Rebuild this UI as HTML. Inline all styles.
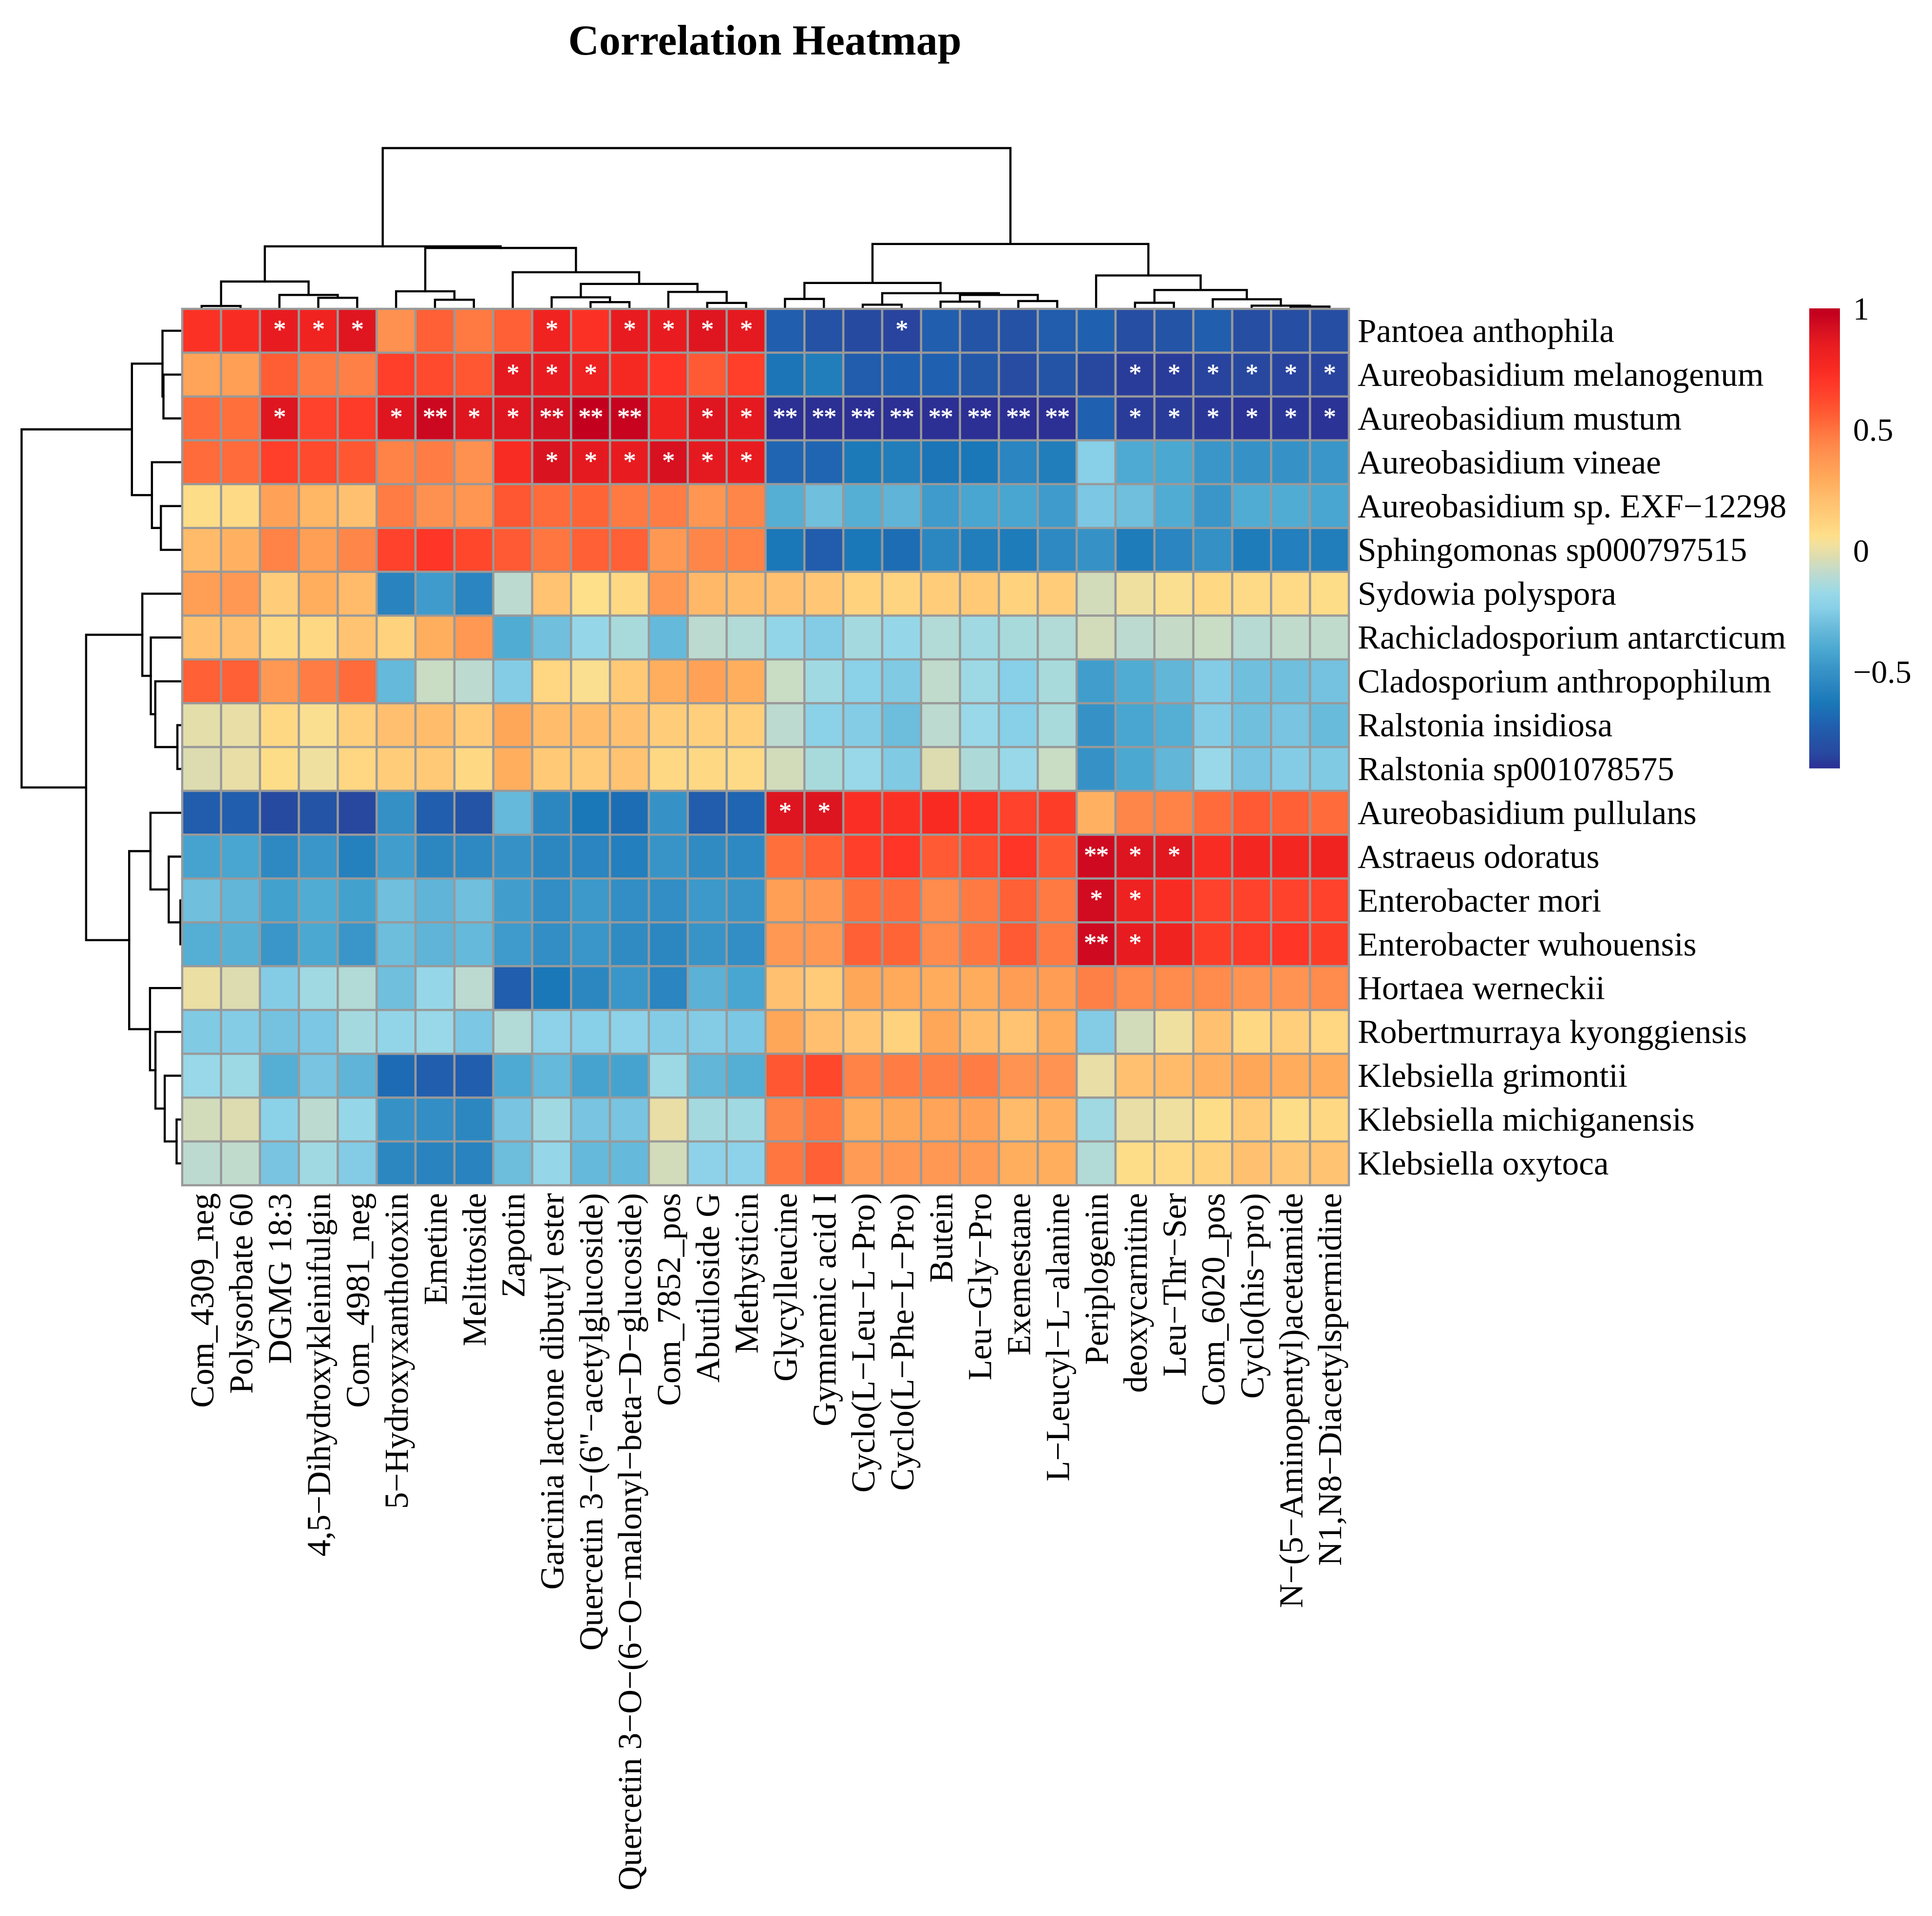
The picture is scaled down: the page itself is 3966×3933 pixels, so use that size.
<!DOCTYPE html>
<html>
<head>
<meta charset="utf-8">
<title>Correlation Heatmap</title>
<style>
html,body{margin:0;padding:0;background:#fff;}
svg{display:block;}
text{font-family:"Liberation Serif",serif;fill:#000;}
</style>
</head>
<body>
<svg id="chart" xmlns="http://www.w3.org/2000/svg" width="3966" height="3933" viewBox="0 0 3966 3933">
<defs><linearGradient id="cbGrad" x1="0" y1="0" x2="0" y2="1"></linearGradient></defs>
<rect x="0" y="0" width="3966" height="3933" fill="#ffffff"></rect>
<text x="1570" y="112" font-size="88" font-weight="bold" text-anchor="middle">Correlation Heatmap</text>
<g id="colDendro"></g>
<g id="rowDendro"></g>
<g id="cells"></g>
<g id="marks"></g>
<g id="rowLabels"></g>
<g id="colLabels"></g>
<g id="colorbar"></g>
</svg>
<script>
const rowNames = ['Pantoea anthophila','Aureobasidium melanogenum','Aureobasidium mustum','Aureobasidium vineae','Aureobasidium sp. EXF−12298','Sphingomonas sp000797515','Sydowia polyspora','Rachicladosporium antarcticum','Cladosporium anthropophilum','Ralstonia insidiosa','Ralstonia sp001078575','Aureobasidium pullulans','Astraeus odoratus','Enterobacter mori','Enterobacter wuhouensis','Hortaea werneckii','Robertmurraya kyonggiensis','Klebsiella grimontii','Klebsiella michiganensis','Klebsiella oxytoca'];
const colNames = ['Com_4309_neg','Polysorbate 60','DGMG 18:3','4,5−Dihydroxykleinifulgin','Com_4981_neg','5−Hydroxyxanthotoxin','Emetine','Melittoside','Zapotin','Garcinia lactone dibutyl ester','Quercetin 3−(6"−acetylglucoside)','Quercetin 3−O−(6−O−malonyl−beta−D−glucoside)','Com_7852_pos','Abutiloside G','Methysticin','Glycylleucine','Gymnemic acid I','Cyclo(L−Leu−L−Pro)','Cyclo(L−Phe−L−Pro)','Butein','Leu−Gly−Pro','Exemestane','L−Leucyl−L−alanine','Periplogenin','deoxycarnitine','Leu−Thr−Ser','Com_6020_pos','Cyclo(his−pro)','N−(5−Aminopentyl)acetamide','N1,N8−Diacetylspermidine'];
const values = [
[.72,.74,.85,.80,.88,.40,.55,.48,.55,.80,.72,.85,.85,.88,.86,-.73,-.79,-.83,-.85,-.73,-.78,-.79,-.74,-.72,-.81,-.78,-.73,-.81,-.81,-.81],
[.32,.34,.56,.48,.46,.66,.62,.58,.86,.85,.81,.76,.70,.57,.66,-.64,-.60,-.74,-.72,-.72,-.76,-.82,-.78,-.84,-.87,-.87,-.85,-.84,-.85,-.85],
[.52,.51,.88,.65,.68,.88,.95,.88,.88,.92,.98,.97,.80,.88,.86,-.90,-.90,-.90,-.90,-.90,-.90,-.90,-.90,-.72,-.87,-.87,-.88,-.89,-.88,-.89],
[.52,.52,.66,.62,.58,.45,.47,.40,.74,.90,.86,.85,.91,.86,.85,-.70,-.70,-.62,-.60,-.64,-.63,-.56,-.60,-.24,-.40,-.41,-.48,-.50,-.50,-.48],
[.07,.08,.33,.25,.20,.47,.40,.38,.58,.52,.54,.48,.47,.38,.44,-.38,-.30,-.38,-.35,-.46,-.42,-.42,-.46,-.27,-.30,-.39,-.48,-.39,-.39,-.42],
[.23,.27,.45,.34,.44,.65,.70,.63,.57,.49,.55,.55,.37,.44,.45,-.63,-.74,-.63,-.67,-.55,-.60,-.61,-.54,-.50,-.61,-.56,-.51,-.61,-.59,-.60],
[.34,.37,.14,.28,.23,-.57,-.46,-.56,-.10,.19,.06,.09,.37,.24,.22,.20,.17,.12,.11,.14,.16,.12,.14,-.05,.02,.05,.09,.08,.08,.07],
[.20,.21,.09,.09,.19,.12,.28,.37,-.39,-.30,-.19,-.14,-.33,-.10,-.12,-.20,-.25,-.15,-.19,-.12,-.16,-.14,-.12,-.05,-.10,-.08,-.07,-.11,-.09,-.09],
[.55,.55,.37,.47,.52,-.33,-.07,-.10,-.25,.10,.05,.16,.28,.33,.28,-.07,-.16,-.23,-.26,-.09,-.17,-.24,-.14,-.45,-.39,-.34,-.25,-.30,-.30,-.29],
[-.01,.00,.09,.05,.13,.21,.22,.15,.31,.22,.22,.20,.14,.13,.13,-.10,-.23,-.25,-.31,-.10,-.18,-.24,-.14,-.50,-.42,-.38,-.25,-.30,-.28,-.32],
[-.03,.00,.07,.02,.10,.14,.16,.09,.28,.16,.15,.19,.09,.09,.08,-.05,-.14,-.18,-.26,-.03,-.13,-.18,-.07,-.50,-.41,-.34,-.18,-.28,-.25,-.26],
[-.74,-.73,-.83,-.78,-.84,-.51,-.73,-.78,-.33,-.55,-.63,-.67,-.50,-.74,-.70,.89,.89,.73,.72,.75,.71,.65,.67,.27,.44,.45,.52,.57,.55,.52],
[-.43,-.42,-.54,-.48,-.58,-.45,-.55,-.54,-.50,-.55,-.56,-.59,-.49,-.53,-.54,.51,.55,.66,.70,.57,.62,.70,.58,.94,.89,.87,.74,.78,.78,.80],
[-.30,-.34,-.44,-.39,-.44,-.30,-.35,-.30,-.45,-.52,-.47,-.52,-.52,-.47,-.49,.34,.37,.51,.52,.42,.48,.55,.48,.93,.81,.74,.65,.65,.65,.65],
[-.38,-.37,-.48,-.41,-.48,-.31,-.35,-.33,-.46,-.52,-.48,-.53,-.55,-.49,-.52,.37,.37,.55,.54,.42,.49,.57,.48,.94,.85,.80,.67,.68,.70,.67],
[.01,-.03,-.25,-.16,-.12,-.30,-.19,-.10,-.73,-.63,-.55,-.48,-.56,-.36,-.42,.20,.15,.31,.30,.29,.29,.35,.35,.46,.42,.42,.42,.39,.39,.42],
[-.26,-.25,-.29,-.27,-.15,-.20,-.18,-.27,-.12,-.22,-.24,-.22,-.25,-.25,-.27,.31,.21,.17,.12,.31,.22,.19,.29,-.25,-.05,.02,.20,.09,.13,.10],
[-.18,-.17,-.38,-.28,-.35,-.68,-.73,-.73,-.40,-.33,-.43,-.43,-.17,-.34,-.38,.58,.63,.45,.47,.46,.47,.39,.39,.00,.20,.23,.27,.31,.29,.29],
[-.05,-.03,-.23,-.10,-.19,-.50,-.52,-.55,-.28,-.16,-.28,-.28,.00,-.15,-.16,.44,.49,.29,.31,.32,.33,.23,.27,-.16,.00,.02,.07,.15,.07,.09],
[-.10,-.09,-.28,-.16,-.25,-.55,-.57,-.57,-.31,-.19,-.33,-.33,-.05,-.22,-.22,.49,.55,.36,.37,.37,.36,.28,.28,-.12,.07,.08,.12,.20,.17,.19]
];
const sigMarks = [
['','','*','*','*','','','','','*','','*','*','*','*','','','','*','','','','','','','','','','',''],
['','','','','','','','','*','*','*','','','','','','','','','','','','','','*','*','*','*','*','*'],
['','','*','','','*','**','*','*','**','**','**','','*','*','**','**','**','**','**','**','**','**','','*','*','*','*','*','*'],
['','','','','','','','','','*','*','*','*','*','*','','','','','','','','','','','','','','',''],
['','','','','','','','','','','','','','','','','','','','','','','','','','','','','',''],
['','','','','','','','','','','','','','','','','','','','','','','','','','','','','',''],
['','','','','','','','','','','','','','','','','','','','','','','','','','','','','',''],
['','','','','','','','','','','','','','','','','','','','','','','','','','','','','',''],
['','','','','','','','','','','','','','','','','','','','','','','','','','','','','',''],
['','','','','','','','','','','','','','','','','','','','','','','','','','','','','',''],
['','','','','','','','','','','','','','','','','','','','','','','','','','','','','',''],
['','','','','','','','','','','','','','','','*','*','','','','','','','','','','','','',''],
['','','','','','','','','','','','','','','','','','','','','','','','**','*','*','','','',''],
['','','','','','','','','','','','','','','','','','','','','','','','*','*','','','','',''],
['','','','','','','','','','','','','','','','','','','','','','','','**','*','','','','',''],
['','','','','','','','','','','','','','','','','','','','','','','','','','','','','',''],
['','','','','','','','','','','','','','','','','','','','','','','','','','','','','',''],
['','','','','','','','','','','','','','','','','','','','','','','','','','','','','',''],
['','','','','','','','','','','','','','','','','','','','','','','','','','','','','',''],
['','','','','','','','','','','','','','','','','','','','','','','','','','','','','','']
];
const colMerges = [
[-1,-2,.012],[-4,-5,.063],[-3,2,.081],[1,3,.165],[-7,-8,.051],[-6,5,.104],[-11,-12,.036],[-10,7,.066],
[-14,-15,.031],[-13,9,.1],[8,10,.15],[-9,11,.223],[6,12,.375],[4,13,.385],[-16,-17,.056],[-18,-19,.02],
[-20,-21,.039],[-22,-23,.043],[17,18,.081],[16,19,.092],[15,20,.156],[-25,-26,.032],[-29,-30,.008],
[-28,23,.014],[-27,24,.054],[22,25,.112],[-24,26,.203],[21,27,.4],[14,28,1]
];
const rowMerges = [
[-2,-3,.114],[-1,1,.12],[-5,-6,.13],[-4,3,.186],[2,4,.311],[-10,-11,.027],[-9,6,.165],[-8,7,.193],
[-7,8,.246],[-14,-15,.008],[-13,10,.081],[-12,11,.195],[-19,-20,.032],[-18,13,.106],[-17,14,.164],
[-16,15,.198],[12,16,.328],[9,17,.597],[5,18,1]
];
const colorbarTicks = [1,.5,0,-.5];
const colorbarTickLabels = ['1','0.5','0','−0.5'];
const colorDomainMin = -.9;
const colorDomainMax = 1;
const colorStops = [[1,'#c0001f'],[.98,'#c4001f'],[.92,'#d40f20'],[.85,'#e81c20'],[.75,'#f82a22'],[.7,'#fe3527'],[.62,'#ff4a2d'],[.55,'#ff6035'],[.48,'#ff7a42'],[.4,'#ff9150'],[.3,'#ffa95a'],[.22,'#ffbd6c'],[.15,'#ffcb78'],[.09,'#ffd884'],[.06,'#fedf8a'],[.02,'#f0e0a0'],[-.03,'#dcdcb0'],[-.06,'#cddcc0'],[-.1,'#bcdad0'],[-.14,'#a8dadc'],[-.18,'#98d8e8'],[-.24,'#88cfe8'],[-.3,'#70bfdd'],[-.36,'#5bb2d6'],[-.42,'#48a6d0'],[-.48,'#3a96c8'],[-.56,'#2a85c0'],[-.63,'#1a78b8'],[-.72,'#2060b0'],[-.78,'#2454a6'],[-.84,'#2848a0'],[-.9,'#2c2f94']];

const NS = 'http://www.w3.org/2000/svg';
const plot = {left:374, right:2769, top:634, bottom:2433};
const cellW = (plot.right - plot.left) / colNames.length;
const cellH = (plot.bottom - plot.top) / rowNames.length;
const xCol = i => plot.left + cellW * i;
const yRow = i => plot.top + cellH * i;
const colDendroY = h => 632 - 328 * h;
const rowDendroX = h => 373 - 328.7 * h;
const colorbarY = v => 1130 - 497 * v;

function hexToRgb(h){ return [parseInt(h.slice(1,3),16),parseInt(h.slice(3,5),16),parseInt(h.slice(5,7),16)]; }
function colorFor(v){
  if (v >= colorStops[0][0]) return colorStops[0][1];
  for (let i = 1; i < colorStops.length; i++) {
    const a = colorStops[i-1], b = colorStops[i];
    if (v >= b[0]) {
      const t = (a[0] - v) / (a[0] - b[0]);
      const ca = hexToRgb(a[1]), cb = hexToRgb(b[1]);
      return 'rgb(' + ca.map((c,k) => Math.round(c + (cb[k]-c)*t)).join(',') + ')';
    }
  }
  return colorStops[colorStops.length-1][1];
}
function svgEl(tag, parentId){
  const el = document.createElementNS(NS, tag);
  document.getElementById(parentId).appendChild(el);
  return el;
}

/* cells */
values.forEach((row, r) => row.forEach((v, c) => {
  const rect = svgEl('rect', 'cells');
  
  
  rect.setAttribute('x', xCol(c));
  rect.setAttribute('y', yRow(r));
  rect.setAttribute('width', cellW);
  rect.setAttribute('height', cellH);
  rect.setAttribute('fill', colorFor(v));
  rect.setAttribute('stroke', '#999999');
  rect.setAttribute('stroke-width', '4.5');
}));

/* significance marks */
sigMarks.forEach((row, r) => row.forEach((s, c) => {
  if (!s) return;
  const t = svgEl('text', 'marks');
  
  
  t.setAttribute('x', xCol(c) + cellW / 2);
  t.setAttribute('y', yRow(r) + cellH / 2 + 14);
  t.setAttribute('text-anchor', 'middle');
  t.setAttribute('font-size', '52');
  t.setAttribute('letter-spacing', '-1');
  t.setAttribute('style', 'fill:#ffffff;stroke:#ffffff;stroke-width:0.8px');
  t.textContent = s;
}));

/* row labels */
rowNames.forEach((name, r) => {
  const t = svgEl('text', 'rowLabels');
  
  
  t.setAttribute('x', 2787);
  t.setAttribute('y', yRow(r) + cellH / 2 + 23);
  t.setAttribute('font-size', '69');
  t.textContent = name;
});

/* column labels */
colNames.forEach((name, c) => {
  const t = svgEl('text', 'colLabels');
  const x = xCol(c) + cellW / 2 + 24;
  const y = 2449;
  
  
  t.setAttribute('x', x);
  t.setAttribute('y', y);
  t.setAttribute('font-size', '69');
  t.setAttribute('text-anchor', 'end');
  t.setAttribute('transform', 'rotate(-90 ' + x + ' ' + y + ')');
  t.textContent = name;
});

/* dendrograms */
function drawDendro(merges, leafPos, heightPos, vertical, parentId, itemName){
  const nodePos = [];
  const posOf = id => id < 0 ? leafPos(-id - 1) : nodePos[id - 1];
  const baseOf = (id) => id < 0 ? heightPos(0) : heightPos(merges[id - 1][2]);
  merges.forEach((m, i) => {
    const a = posOf(m[0]), b = posOf(m[1]), h = heightPos(m[2]);
    const ba = baseOf(m[0]), bb = baseOf(m[1]);
    nodePos[i] = (a + b) / 2;
    const p = svgEl('path', parentId);
    
    
    const d = vertical
      ? 'M' + a + ' ' + ba + 'V' + h + 'H' + b + 'V' + bb
      : 'M' + ba + ' ' + a + 'H' + h + 'V' + b + 'H' + bb;
    p.setAttribute('d', d);
    p.setAttribute('fill', 'none');
    p.setAttribute('stroke', '#000000');
    p.setAttribute('stroke-width', '4.4');
    p.setAttribute('stroke-linecap', 'square');
  });
}
drawDendro(colMerges, i => xCol(i) + cellW / 2, colDendroY, true, 'colDendro', 'column-dendrogram-branch');
drawDendro(rowMerges, i => yRow(i) + cellH / 2, rowDendroX, false, 'rowDendro', 'row-dendrogram-branch');

/* colorbar */
const grad = document.getElementById('cbGrad');
const cbTop = colorbarY(colorDomainMax);
const cbBottom = colorbarY(colorDomainMin);
colorStops.forEach(s => {
  const stop = document.createElementNS(NS, 'stop');
  stop.setAttribute('offset', (colorbarY(s[0]) - cbTop) / (cbBottom - cbTop));
  stop.setAttribute('stop-color', s[1]);
  grad.appendChild(stop);
});
const bar = svgEl('rect', 'colorbar');


bar.setAttribute('x', 3714);
bar.setAttribute('y', cbTop);
bar.setAttribute('width', 63);
bar.setAttribute('height', cbBottom - cbTop);
bar.setAttribute('fill', 'url(#cbGrad)');
colorbarTicks.forEach((v, i) => {
  const t = svgEl('text', 'colorbar');
  
  
  t.setAttribute('x', 3804);
  t.setAttribute('y', colorbarY(v) + 23);
  t.setAttribute('font-size', '66');
  t.textContent = colorbarTickLabels[i];
});
</script>
</body>
</html>
